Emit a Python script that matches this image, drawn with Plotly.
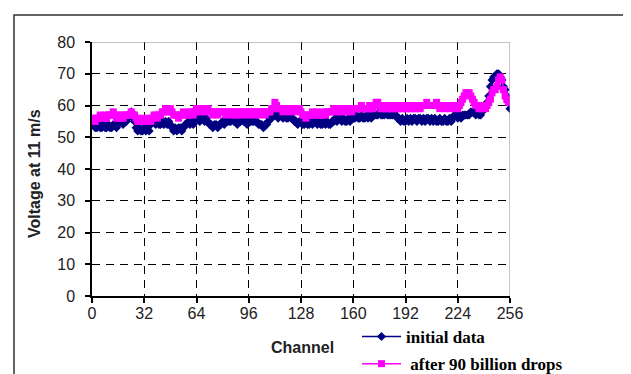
import plotly.graph_objects as go

channels = list(range(1, 257))

initial_data = [
    54, 53, 53, 54, 53, 53, 54, 53, 53, 54, 53, 53, 54, 54, 53, 54,
    55, 55, 54, 55, 55, 56, 57, 58, 56, 55, 53, 52, 53, 52, 52, 53,
    52, 53, 52, 54, 55, 55, 54, 55, 54, 54, 55, 54, 55, 54, 55, 54,
    53, 52, 53, 52, 53, 53, 52, 53, 54, 54, 55, 54, 55, 54, 55, 56,
    56, 55, 56, 56, 55, 56, 55, 54, 54, 53, 54, 54, 53, 54, 54, 55,
    54, 55, 55, 55, 55, 56, 55, 55, 54, 55, 55, 56, 55, 55, 54, 55,
    55, 55, 55, 55, 55, 54, 54, 54, 53, 54, 54, 55, 56, 56, 57, 57,
    57, 56, 57, 57, 56, 57, 56, 56, 57, 56, 56, 55, 55, 54, 55, 55,
    54, 54, 55, 54, 54, 55, 54, 55, 55, 54, 55, 54, 54, 55, 54, 55,
    54, 54, 55, 55, 56, 55, 56, 56, 55, 56, 55, 55, 56, 55, 56, 56,
    56, 57, 56, 56, 57, 56, 56, 57, 56, 57, 56, 57, 57, 57, 57, 58,
    57, 57, 57, 58, 57, 57, 57, 57, 58, 57, 56, 56, 55, 56, 55, 55,
    56, 55, 56, 55, 56, 56, 55, 56, 56, 55, 56, 55, 56, 56, 55, 56,
    55, 56, 55, 55, 56, 55, 55, 56, 55, 55, 56, 55, 56, 57, 57, 56,
    57, 56, 57, 57, 57, 57, 57, 58, 58, 58, 57, 58, 57, 57, 58, 59,
    60, 61, 63, 66, 68, 69, 69, 70, 70, 69, 68, 66, 65, 63, 61, 59,
]

after_drops = [
    56, 55, 56, 56, 57, 56, 56, 57, 56, 57, 57, 57, 58, 57, 56, 57,
    56, 57, 56, 57, 57, 57, 57, 58, 57, 57, 56, 55, 55, 56, 55, 55,
    55, 56, 55, 55, 56, 57, 57, 56, 57, 57, 58, 58, 59, 58, 58, 59,
    58, 57, 57, 57, 56, 57, 57, 58, 57, 57, 57, 58, 58, 57, 58, 59,
    59, 58, 59, 59, 58, 59, 59, 58, 58, 57, 58, 58, 57, 58, 58, 58,
    58, 57, 58, 58, 58, 57, 58, 57, 58, 58, 57, 58, 58, 58, 57, 58,
    58, 58, 57, 58, 58, 57, 58, 58, 58, 57, 58, 58, 58, 59, 59, 61,
    60, 59, 59, 59, 58, 59, 59, 59, 58, 59, 59, 59, 58, 59, 59, 58,
    57, 57, 56, 57, 57, 57, 58, 57, 57, 58, 57, 57, 57, 58, 57, 58,
    58, 58, 58, 59, 59, 59, 58, 58, 59, 59, 59, 58, 59, 59, 58, 59,
    59, 59, 59, 59, 60, 59, 59, 59, 59, 60, 59, 59, 60, 61, 61, 60,
    59, 59, 60, 59, 59, 60, 59, 59, 60, 59, 59, 60, 59, 59, 60, 59,
    59, 60, 59, 59, 60, 59, 60, 59, 59, 60, 60, 60, 61, 60, 60, 60,
    60, 60, 61, 60, 59, 60, 60, 59, 60, 60, 59, 60, 60, 59, 60, 59,
    60, 61, 62, 63, 64, 64, 64, 63, 62, 61, 60, 60, 59, 59, 59, 60,
    59, 60, 61, 62, 64, 65, 65, 66, 68, 69, 68, 65, 63, 62, 61, 61,
]

x_ticks = [0, 32, 64, 96, 128, 160, 192, 224, 256]
y_ticks = [0, 10, 20, 30, 40, 50, 60, 70, 80]

fig = go.Figure()
fig.add_trace(go.Scatter(
    x=channels, y=initial_data, mode="lines+markers", name="initial data",
    legendgroup="a",
    line=dict(color="#000080", width=1.5),
    marker=dict(symbol="diamond", size=7, color="#000080"),
))
fig.add_trace(go.Scatter(
    x=channels, y=after_drops, mode="lines+markers", name=" after 90 billion drops",
    legendgroup="b",
    line=dict(color="#FF00FF", width=1.5),
    marker=dict(symbol="square", size=7, color="#FF00FF"),
))

W, H = 631, 374
L, R, T, B = 84, 129, 34, 86
pw, ph = W - L - R, H - T - B

def px_x(p):
    return (p - L) / pw

def px_y(p):
    return (H - B - p) / ph

tick_font = dict(family="Liberation Sans, Arial", size=16, color="#222222")

fig.update_layout(
    width=W, height=H,
    margin=dict(l=L, r=R, t=T, b=B, autoexpand=False),
    paper_bgcolor="white", plot_bgcolor="white",
    showlegend=True,
    legend=dict(
        xref="container", yref="container",
        x=349 / W, y=1 - 311 / H, xanchor="left", yanchor="top",
        font=dict(family="Liberation Serif, Times New Roman", size=17, color="#000000",
                  weight="bold"),
        bgcolor="rgba(0,0,0,0)", tracegroupgap=2,
        itemwidth=39,
    ),
    xaxis=dict(
        range=[0, 256], tickvals=x_ticks, ticktext=[str(v) for v in x_ticks],
        showline=True, linecolor="#000000", linewidth=1.5,
        ticks="outside", ticklen=5, tickcolor="#000000", tickwidth=1.5,
        showgrid=True, gridcolor="#000000", gridwidth=1, griddash="8px,6px",
        zeroline=False, tickfont=tick_font, ticklabelstandoff=-3,
    ),
    yaxis=dict(
        range=[0, 80], tickvals=y_ticks, ticktext=[str(v) for v in y_ticks],
        showline=True, linecolor="#000000", linewidth=1.5,
        ticks="outside", ticklen=5, tickcolor="#000000", tickwidth=1.5,
        showgrid=True, gridcolor="#000000", gridwidth=1, griddash="8px,6px",
        zeroline=False, tickfont=tick_font, ticklabelstandoff=7,
    ),
    annotations=[
        dict(text="<b>Voltage at 11 m/s</b>", textangle=-90, xref="paper", yref="paper",
             x=px_x(26), y=px_y(166), xanchor="center", yanchor="middle", showarrow=False,
             font=dict(family="Liberation Sans, Arial", size=16, color="#222222")),
        dict(text="<b>Channel</b>", xref="paper", yref="paper",
             x=px_x(294), y=px_y(339), xanchor="center", yanchor="middle", showarrow=False,
             font=dict(family="Liberation Sans, Arial", size=16, color="#222222")),
    ],
    shapes=[
        dict(type="line", xref="x", yref="y", x0=0, x1=256, y0=80, y1=80,
             line=dict(color="#888888", width=1)),
        dict(type="line", xref="x", yref="y", x0=256, x1=256, y0=0, y1=80,
             line=dict(color="#888888", width=1)),
        dict(type="rect", xref="paper", yref="paper",
             x0=px_x(6), x1=px_x(625), y0=px_y(390), y1=px_y(7),
             line=dict(color="#333333", width=1.5), fillcolor="rgba(0,0,0,0)", layer="below"),
    ],
)

fig.write_html("out.html")
